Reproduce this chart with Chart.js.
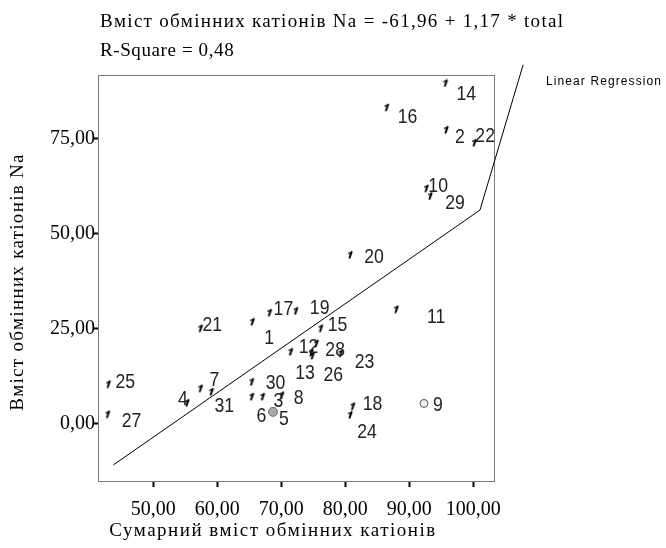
<!DOCTYPE html>
<html>
<head>
<meta charset="utf-8">
<script src="https://cdn.jsdelivr.net/npm/chart.js@4.4.1/dist/chart.umd.min.js"></script>
<style>
  html, body { margin: 0; padding: 0; background: #fff; }
  canvas { display: block; }
</style>
</head>
<body>
<canvas id="chart" width="666" height="548"></canvas>
<script>
// Case numbers and measured values (sum of exchangeable cations vs. Na content)
const caseIds = ['1','2','3','4','5','6','7','8','9','10','11','12','13','14','15','16',
                 '17','18','19','20','21','22','23','24','25','26','27','28','29','30','31'];
const totalCations = [65.6, 95.9, 67.2, 55.4, 68.7, 65.5, 57.5, 70.2, 92.3, 92.8, 88.1, 71.6,
                      74.8, 95.8, 76.3, 86.6, 68.3, 81.3, 72.4, 80.9, 57.5, 100.3, 79.4, 80.9,
                      43.1, 75.0, 43.0, 75.6, 93.4, 65.5, 59.2];
const sodiumCations = [26.9, 77.4, 7.2, 5.6, 3.2, 7.2, 9.4, 7.6, 5.4, 62.0, 30.2, 19.0,
                       18.8, 89.7, 25.2, 83.3, 29.3, 4.7, 29.8, 44.5, 25.2, 74.0, 18.6, 2.4,
                       10.5, 18.0, 2.6, 21.2, 60.0, 11.1, 8.5];

// Axis ticks
const xTicks = [50, 60, 70, 80, 90, 100];
const yTicks = [0, 25, 50, 75];

// Fitted model: Na = -61,96 + 1,17 * total
const fitIntercept = -61.96;
const fitSlope = 1.17;
const fitRange = [43.75, 101.05];
// End of the leader stroke running up to the legend key
const legendLeader = { x: 107.8, y: 94.5 };

// ---- presentation ----
const labelOffsets = {
  '1': [16, 16], '2': [13, 7], '3': [15, 5], '4': [-5, -3], '5': [11, 7], '6': [9, 20],
  '7': [13, -8], '8': [16, 3], '9': [14, 2], '10': [11, -2], '11': [39, 8], '12': [17, -5],
  '13': [-7, 21], '14': [20, 11], '15': [16, -3], '16': [20, 10], '17': [13, -3], '18': [19, -2],
  '19': [23, -2], '20': [23, 2], '21': [11, -3], '22': [10, -6], '23': [23, 9], '24': [16, 17],
  '25': [16, -2], '26': [20, 20], '27': [23, 7], '28': [18, 7], '29': [24, 7], '30': [23, 1],
  '31': [12, 15]
};
const circleMarks = {
  '5': { fill: '#a9a9a9', stroke: '#6b6b6b', r: 4.5 },
  '9': { fill: '#ececec', stroke: '#555555', r: 4 }
};

// Small slanted tick used as the default scatter marker
const tickMark = (() => {
  const c = document.createElement('canvas');
  c.width = 8; c.height = 9;
  const g = c.getContext('2d');
  g.strokeStyle = '#000';
  g.lineCap = 'round';
  g.lineWidth = 2;
  g.beginPath(); g.moveTo(2.5, 7.5); g.lineTo(4.5, 1.8); g.stroke();
  g.lineWidth = 1.3;
  g.beginPath(); g.moveTo(1.5, 3.2); g.lineTo(4.5, 2.2); g.stroke();
  return c;
})();

const fmt = v => v.toFixed(2).replace('.', ',');
const fitY = x => fitIntercept + fitSlope * x;

const points = totalCations.map((x, i) => ({ x, y: sodiumCations[i] }));
const fitLine = [
  { x: fitRange[0], y: fitY(fitRange[0]) },
  { x: fitRange[1], y: fitY(fitRange[1]) },
  legendLeader
];

const serif = '"Liberation Serif", "Times New Roman", serif';

const decorations = {
  id: 'decorations',
  beforeDatasetsDraw(chart) {
    const { ctx, chartArea: a } = chart;
    ctx.save();
    ctx.strokeStyle = '#787878';
    ctx.lineWidth = 1;
    ctx.strokeRect(a.left + 0.5, a.top + 0.5, a.right - a.left - 1, a.bottom - a.top);
    ctx.restore();
  },
  afterDatasetsDraw(chart) {
    const { ctx } = chart;
    // case labels beside each marker
    const meta = chart.getDatasetMeta(0);
    ctx.save();
    ctx.fillStyle = '#222';
    ctx.font = '21px "Liberation Sans", Arial, sans-serif';
    ctx.textAlign = 'center';
    ctx.textBaseline = 'middle';
    meta.data.forEach((el, i) => {
      const id = caseIds[i];
      const [dx, dy] = labelOffsets[id] || [14, 0];
      ctx.save();
      ctx.translate(el.x + dx, el.y + dy);
      ctx.scale(0.84, 1);
      ctx.fillText(id, 0, 0);
      ctx.restore();
    });
    ctx.restore();

    // headings, axis titles and legend entry
    ctx.save();
    ctx.fillStyle = '#000';
    ctx.textBaseline = 'middle';
    ctx.textAlign = 'left';
    ctx.font = '19px ' + serif;
    ctx.letterSpacing = '1.3px';
    ctx.fillText('Вміст обмінних катіонів Na = -61,96 + 1,17 * total', 100, 22.5);
    ctx.letterSpacing = '0.6px';
    ctx.fillText('R-Square = 0,48', 100, 51.5);

    ctx.textAlign = 'center';
    ctx.letterSpacing = '1.5px';
    ctx.fillText('Сумарний вміст обмінних катіонів', 273, 531);
    ctx.letterSpacing = '1.3px';
    ctx.save();
    ctx.translate(18.5, 282);
    ctx.rotate(-Math.PI / 2);
    ctx.fillText('Вміст обмінних катіонів Na', 0, 0);
    ctx.restore();

    ctx.textAlign = 'left';
    ctx.font = '12px "Liberation Sans", Arial, sans-serif';
    ctx.letterSpacing = '1.1px';
    ctx.fillText('Linear Regression', 546, 82);
    ctx.restore();
  }
};

new Chart(document.getElementById('chart'), {
  type: 'scatter',
  data: {
    datasets: [
      {
        label: 'cases',
        data: points,
        pointStyle: c => circleMarks[caseIds[c.dataIndex]] ? 'circle' : tickMark,
        pointRadius: c => { const m = circleMarks[caseIds[c.dataIndex]]; return m ? m.r : 4; },
        pointBackgroundColor: c => { const m = circleMarks[caseIds[c.dataIndex]]; return m ? m.fill : '#000'; },
        pointBorderColor: c => { const m = circleMarks[caseIds[c.dataIndex]]; return m ? m.stroke : '#000'; },
        pointBorderWidth: 1,
        order: 1
      },
      {
        type: 'line',
        label: 'Linear Regression',
        data: fitLine,
        borderColor: '#000',
        borderWidth: 1,
        pointRadius: 0,
        fill: false,
        tension: 0,
        clip: false,
        order: 0
      }
    ]
  },
  options: {
    responsive: false,
    animation: false,
    events: [],
    layout: { padding: { left: 0, top: 75, right: 171, bottom: 0 } },
    plugins: { legend: { display: false }, tooltip: { enabled: false } },
    scales: {
      x: {
        type: 'linear',
        min: 41.35,
        max: 103.4,
        afterBuildTicks: s => { s.ticks = xTicks.map(v => ({ value: v })); },
        afterFit: s => { s.height = 67; },
        ticks: {
          callback: v => fmt(v),
          color: '#000',
          font: { family: serif, size: 20 },
          padding: 11,
          maxRotation: 0,
          autoSkip: false
        },
        grid: { drawOnChartArea: false, drawTicks: true, tickLength: 6, tickWidth: 2, tickColor: '#000' },
        border: { display: false }
      },
      y: {
        type: 'linear',
        min: -15,
        max: 91.8,
        afterBuildTicks: s => { s.ticks = yTicks.map(v => ({ value: v })); },
        afterFit: s => { s.width = 98; },
        ticks: {
          callback: v => fmt(v),
          color: '#000',
          font: { family: serif, size: 20 },
          padding: -2,
          autoSkip: false
        },
        grid: { drawOnChartArea: false, drawTicks: true, tickLength: 5, tickWidth: 2, tickColor: '#000' },
        border: { display: false }
      }
    }
  },
  plugins: [decorations]
});
</script>
</body>
</html>
